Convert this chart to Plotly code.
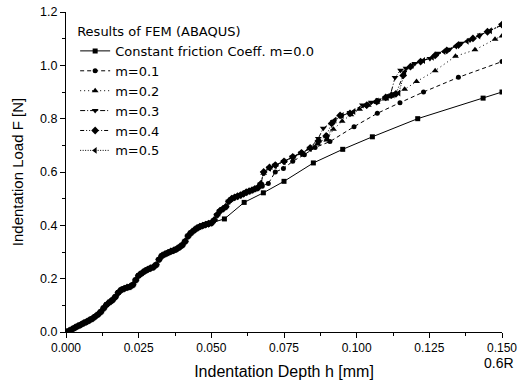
import plotly.graph_objects as go

# ---- data (h in mm, F in N) ----
# common initial part shared by all friction coefficients
h_base = [0.000, 0.001, 0.002, 0.003, 0.004, 0.005, 0.006, 0.007, 0.008, 0.009,
          0.010, 0.011, 0.012, 0.013, 0.014, 0.015, 0.016, 0.017, 0.018, 0.019,
          0.020, 0.021, 0.022, 0.023, 0.024, 0.025, 0.026, 0.027, 0.028, 0.029,
          0.030, 0.031, 0.032, 0.033, 0.034, 0.035, 0.036, 0.037, 0.038, 0.039,
          0.040, 0.041, 0.042, 0.043, 0.044, 0.045, 0.046, 0.047, 0.048, 0.049, 0.050]
F_base = [0.000, 0.004, 0.010, 0.016, 0.022, 0.027, 0.033, 0.038, 0.044, 0.050,
          0.058, 0.066, 0.076, 0.090, 0.103, 0.112, 0.120, 0.132, 0.148, 0.158,
          0.163, 0.167, 0.170, 0.177, 0.195, 0.212, 0.220, 0.228, 0.234, 0.239,
          0.243, 0.252, 0.272, 0.286, 0.292, 0.297, 0.302, 0.306, 0.311, 0.318,
          0.326, 0.340, 0.360, 0.372, 0.381, 0.389, 0.395, 0.399, 0.403, 0.406, 0.409]

# upper band shared by m=0.1 ... m=0.5 between h=0.051 and 0.066
h_mid = [0.051, 0.052, 0.053, 0.054, 0.055, 0.056, 0.057, 0.058, 0.059, 0.060,
         0.061, 0.062, 0.063, 0.064, 0.065, 0.066]
F_mid = [0.420, 0.440, 0.455, 0.462, 0.470, 0.490, 0.500, 0.505, 0.509, 0.513,
         0.518, 0.524, 0.528, 0.532, 0.537, 0.541]

# m = 0.0
h_m00 = [0.0545, 0.0613, 0.0679, 0.075, 0.0851, 0.0952, 0.1054, 0.121, 0.1435, 0.150]
F_m00 = [0.424, 0.486, 0.522, 0.565, 0.634, 0.685, 0.732, 0.800, 0.877, 0.900]

# m = 0.1
h_m01 = [0.0675, 0.0696, 0.072, 0.0748, 0.078, 0.082, 0.0857, 0.0908, 0.0991, 0.1071,
         0.1149, 0.123, 0.135, 0.150]
F_m01 = [0.547, 0.557, 0.600, 0.613, 0.640, 0.665, 0.692, 0.714, 0.770, 0.820,
         0.860, 0.900, 0.955, 1.014]

# m = 0.2
h_m02 = [0.067, 0.068, 0.070, 0.072, 0.075, 0.078, 0.081, 0.084, 0.0865, 0.0897,
         0.092, 0.095, 0.098, 0.101, 0.104, 0.107, 0.110, 0.1126, 0.1165, 0.1206,
         0.127, 0.134, 0.1407, 0.1476, 0.150]
F_m02 = [0.555, 0.595, 0.615, 0.625, 0.639, 0.656, 0.671, 0.689, 0.705, 0.720,
         0.760, 0.790, 0.815, 0.835, 0.850, 0.862, 0.874, 0.889, 0.910, 0.939,
         0.980, 1.034, 1.058, 1.098, 1.110]

# m = 0.3
h_m03 = [0.067, 0.068, 0.070, 0.072, 0.075, 0.078, 0.081, 0.084, 0.0868, 0.0885,
         0.092, 0.0948, 0.0977, 0.102, 0.105, 0.1075, 0.110, 0.1115, 0.1132, 0.1151,
         0.117, 0.120, 0.1252, 0.128, 0.132, 0.136, 0.139, 0.1425, 0.150]
F_m03 = [0.555, 0.598, 0.615, 0.625, 0.639, 0.656, 0.671, 0.689, 0.726, 0.764,
         0.789, 0.810, 0.823, 0.851, 0.862, 0.870, 0.878, 0.885, 0.954, 0.982,
         0.989, 1.007, 1.026, 1.045, 1.060, 1.083, 1.095, 1.114, 1.151]

# m = 0.4
h_m04 = [0.067, 0.068, 0.070, 0.072, 0.075, 0.078, 0.081, 0.084, 0.0868, 0.0895,
         0.0914, 0.0943, 0.0977, 0.1035, 0.1069, 0.110, 0.112, 0.1135, 0.116, 0.1185,
         0.122, 0.127, 0.131, 0.135, 0.140, 0.145, 0.150]
F_m04 = [0.555, 0.600, 0.617, 0.626, 0.640, 0.657, 0.672, 0.690, 0.716, 0.735,
         0.782, 0.812, 0.820, 0.851, 0.864, 0.880, 0.888, 0.893, 0.962, 0.995,
         1.014, 1.037, 1.056, 1.076, 1.101, 1.126, 1.153]

# m = 0.5
h_m05 = [0.067, 0.068, 0.070, 0.072, 0.075, 0.078, 0.081, 0.084, 0.087, 0.090,
         0.0925, 0.095, 0.099, 0.103, 0.107, 0.1105, 0.1125, 0.1145, 0.1165, 0.119,
         0.123, 0.126, 0.130, 0.134, 0.138, 0.142, 0.146, 0.150]
F_m05 = [0.557, 0.597, 0.614, 0.624, 0.638, 0.655, 0.670, 0.688, 0.712, 0.728,
         0.795, 0.812, 0.827, 0.849, 0.866, 0.882, 0.889, 0.896, 0.975, 0.999,
         1.018, 1.030, 1.052, 1.072, 1.090, 1.110, 1.130, 1.150]

labels = ["Constant friction Coeff. m=0.0", "m=0.1", "m=0.2", "m=0.3", "m=0.4", "m=0.5"]

x_ticks = [0.000, 0.025, 0.050, 0.075, 0.100, 0.125, 0.150]
x_ticklabels = ["0.000", "0.025", "0.050", "0.075", "0.100", "0.125", "0.150"]
y_ticks = [0.0, 0.2, 0.4, 0.6, 0.8, 1.0, 1.2]
y_ticklabels = ["0.0", "0.2", "0.4", "0.6", "0.8", "1.0", "1.2"]

FONT = "Liberation Sans, Arial, sans-serif"
LEGEND_FONT = "DejaVu Sans, Liberation Sans, sans-serif"

series = [
    (h_base + h_m00, F_base + F_m00, "solid", "square", 5),
    (h_base + h_mid + h_m01, F_base + F_mid + F_m01, "4px,3px", "circle", 5),
    (h_base + h_mid + h_m02, F_base + F_mid + F_m02, "1px,3px", "triangle-up", 6),
    (h_base + h_mid + h_m03, F_base + F_mid + F_m03, "5px,2px,1px,2px", "triangle-down", 6),
    (h_base + h_mid + h_m04, F_base + F_mid + F_m04, "4px,2px,1px,2px,1px,2px", "diamond", 6),
    (h_base + h_mid + h_m05, F_base + F_mid + F_m05, "1px,1.5px", "triangle-left", 6),
]

fig = go.Figure()
for (hx, fy, dash, sym, sz), name in zip(series, labels):
    fig.add_trace(go.Scatter(
        x=hx, y=fy, mode="lines+markers", name=name,
        line=dict(color="black", width=1, dash=dash),
        marker=dict(symbol=sym, size=sz, color="black"),
        cliponaxis=True,
    ))

fig.update_layout(
    width=525, height=383,
    margin=dict(l=66, r=23, t=12, b=51, autoexpand=False),
    paper_bgcolor="white", plot_bgcolor="white",
    font=dict(family=FONT, color="black", size=12),
    showlegend=True,
    legend=dict(
        x=0.021, y=0.978, xanchor="left", yanchor="top",
        bgcolor="rgba(0,0,0,0)", borderwidth=0,
        font=dict(family=LEGEND_FONT, size=13, color="black"),
        title=dict(text="Results of FEM (ABAQUS)", font=dict(family=LEGEND_FONT, size=13, color="black")),
        itemwidth=30, tracegroupgap=0,
    ),
    xaxis=dict(
        range=[0, 0.150], showgrid=False, zeroline=False, automargin=False,
        showline=True, linecolor="black", linewidth=1, mirror=False,
        ticks="outside", ticklen=5, tickwidth=1, tickcolor="black",
        tickvals=x_ticks, ticktext=x_ticklabels,
        tickfont=dict(family=FONT, size=12),
        minor=dict(dtick=0.0125, tick0=0, ticks="outside", ticklen=3, tickcolor="black"),
        title=dict(text="Indentation Depth h [mm]", font=dict(family=FONT, size=16), standoff=11),
    ),
    yaxis=dict(
        range=[0, 1.2], showgrid=False, zeroline=False, automargin=False,
        showline=True, linecolor="black", linewidth=1, mirror=False,
        ticks="outside", ticklen=5, tickwidth=1, tickcolor="black",
        tickvals=y_ticks, ticktext=y_ticklabels,
        tickfont=dict(family=FONT, size=12.5),
        minor=dict(dtick=0.1, tick0=0, ticks="outside", ticklen=3, tickcolor="black"),
        title=dict(text="Indentation Load F [N]", font=dict(family=FONT, size=15), standoff=12),
    ),
    annotations=[dict(
        text="0.6R", xref="paper", yref="paper", x=1.032, y=-0.067,
        xanchor="right", yanchor="top", showarrow=False,
        font=dict(family=FONT, size=14, color="black"),
    )],
)

fig.write_html("out.html")
